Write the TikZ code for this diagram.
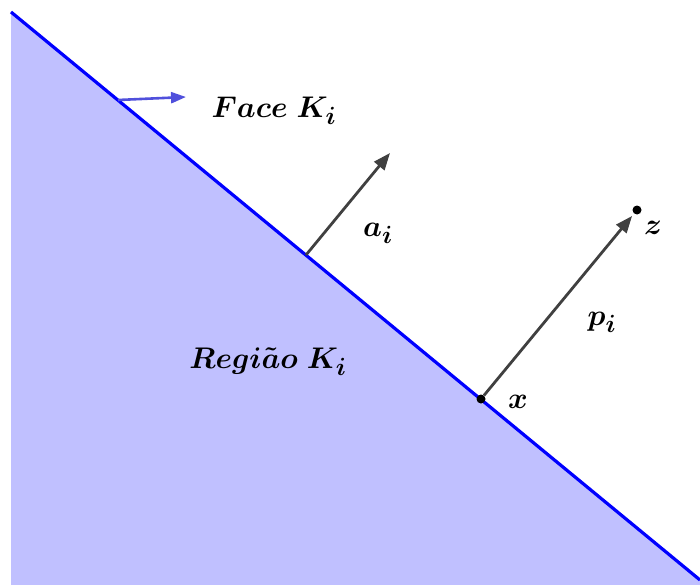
\documentclass[tikz,border=0pt]{standalone}
\usepackage{amsmath,bm}
\usetikzlibrary{arrows.meta}
\definecolor{regiao}{RGB}{192,192,255}
\definecolor{vetor}{RGB}{64,64,64}
\definecolor{seta}{RGB}{80,80,220}
\tikzset{
  vec/.style={draw=vetor,line width=2.8pt,-{Triangle[length=17pt,width=13pt]}},
  lbl/.style={font=\Huge,scale=1.2},
  pt/.style={circle,fill=black,inner sep=0pt,minimum size=9pt}
}
\begin{document}
\begin{tikzpicture}[x=1pt,y=-1pt]
      \useasboundingbox (0,0) rectangle (700,585);
      \coordinate (P) at (11,12);
      \coordinate (Q) at (700,580);
      \coordinate (Qb) at (700,585);
      \coordinate (Pb) at (11,585);
      \fill[regiao] (P) -- (Q) -- (Qb) -- (Pb) -- cycle;
      \draw[blue,line width=3.2pt] (P) -- (Q);
      % normal da face
      \coordinate (F) at (118,100);
      \coordinate (G) at (186,97);
      \draw[seta,line width=2.6pt,-{Triangle[length=15pt,width=11pt]}] (F) -- (G);
      \coordinate (A) at (306,255);
      \coordinate (B) at (390,153);
      \draw[vec] (A) -- (B);
      \node[pt] (x) at (481,399) {};
      \node[pt] (z) at (637,210) {};
      \draw[vec,shorten >=3pt] (x) -- (z);
      \node[lbl] (face) at (274,111) {$\boldsymbol{Face\ K_i}$};
      \node[lbl] (ai) at (378,233) {$\boldsymbol{a_i}$};
      \node[lbl] (pi) at (602,322) {$\boldsymbol{p_i}$};
      \node[lbl] (zl) at (653,228) {$\boldsymbol{z}$};
      \node[lbl] (xl) at (518,402) {$\boldsymbol{x}$};
      \node[lbl] (reg) at (268,362) {$\boldsymbol{Regi\tilde{a}o\ K_i}$};
    \end{tikzpicture}
\end{document}
